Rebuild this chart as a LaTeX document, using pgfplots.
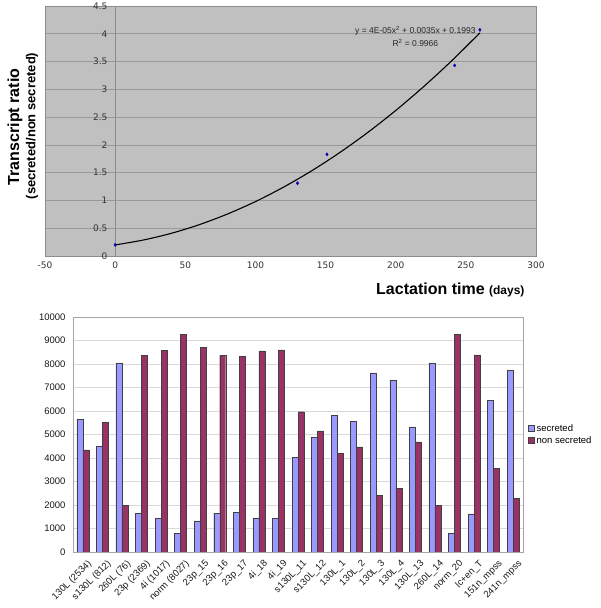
\documentclass[border=0pt]{standalone}
\usepackage{fontspec}
\setmainfont{Liberation Sans}
\newfontfamily\dv{DejaVu Sans}
\usepackage{pgfplots}
\pgfplotsset{compat=1.18}
\definecolor{bgray}{HTML}{C0C0C0}
\definecolor{sec}{HTML}{9999FF}
\definecolor{nsec}{HTML}{993366}
\pgfplotsset{sqlegend/.style={legend image code/.code={\draw[#1,/tikz/.cd] (0pt,-3pt) rectangle (6pt,3pt);}}}
\begin{document}
\begin{tikzpicture}
\useasboundingbox (0,0) rectangle (600pt,608pt);
% ---------------- top panel ----------------
\begin{axis}[at={(45pt,352pt)}, anchor=south west, width=491pt, height=250pt, scale only axis,
  xmin=-50, xmax=300, ymin=0, ymax=4.5,
  xtick={-50,0,50,100,150,200,250,300},
  ytick={0,0.5,1,1.5,2,2.5,3,3.5,4,4.5},
  axis background/.style={fill=bgray},
  axis line style={draw=black!45},
  ymajorgrids, major grid style={black!40, line width=0.6pt},
  major tick length=0pt,
  /pgf/number format/assume math mode=true,
  tick label style={font=\dv\fontsize{9}{10}\selectfont, text=black!80},
  yticklabel style={xshift=66pt},
  xticklabel style={yshift=-2pt},
  clip=false]
\draw[black!45, line width=0.6pt] (axis cs:0,0) -- (axis cs:0,4.5);
\addplot[black, line width=1.1pt, smooth] coordinates {
  (0,0.199) (20,0.287) (40,0.408) (60,0.564) (80,0.755) (100,0.979) (120,1.239)
  (140,1.532) (160,1.860) (180,2.222) (200,2.619) (220,3.051) (240,3.516) (260,4.016)};
\addplot[only marks, mark=diamond*, mark size=1.6pt, color=blue!70!black] coordinates {
  (0,0.20) (130,1.31) (151,1.83) (242,3.43) (260,4.07)};
\node[font=\fontsize{8.5}{10}\selectfont, text=black!85] at (axis cs:214,4.05) {y = 4E-05x\textsuperscript{2} + 0.0035x + 0.1993};
\node[font=\fontsize{8.5}{10}\selectfont, text=black!85] at (axis cs:214,3.83) {R\textsuperscript{2} = 0.9966};
\end{axis}
\node[rotate=90, font=\bfseries\fontsize{16}{18}\selectfont] at (15pt,481pt) {Transcript ratio};
\node[rotate=90, font=\bfseries\fontsize{13}{15}\selectfont] at (32pt,482pt) {(secreted/non secreted)};
\node[anchor=east] at (528pt,318pt) {\bfseries\fontsize{16}{18}\selectfont Lactation time \fontsize{12}{14}\selectfont(days)};
% ---------------- bottom panel ----------------
\begin{axis}[at={(73pt,56pt)}, anchor=south west, width=450pt, height=235pt, scale only axis,
  ybar=0pt, bar width=6pt,
  xmin=-0.5, xmax=22.5, ymin=0, ymax=10000,
  xtick={0,1,2,3,4,5,6,7,8,9,10,11,12,13,14,15,16,17,18,19,20,21,22},
  xticklabels={130L (2534), s130L (812), 260L (76), 23p (2369), 4i (1017), norm (8027),
    23p\_15, 23p\_16, 23p\_17, 4i\_18, 4i\_19, s130L\_11, s130L\_12, 130L\_1, 130L\_2,
    130L\_3, 130L\_4, 130L\_13, 260L\_14, norm\_20, lc+en\_T, 151n\_mpss, 241n\_mpss},
  ytick={0,1000,2000,3000,4000,5000,6000,7000,8000,9000,10000},
  scaled y ticks=false,
  /pgf/number format/1000 sep={},
  /pgf/number format/assume math mode=true,
  ymajorgrids, major grid style={black!15, line width=0.5pt},
  axis line style={draw=black!35},
  major tick length=0pt,
  tick label style={font=\fontsize{9.5}{11}\selectfont, text=black!90},
  yticklabel style={xshift=-4pt},
  xticklabel style={rotate=45, anchor=north east, inner sep=1pt, yshift=-7pt, xshift=-1pt},
  legend style={at={(1,0.5)}, anchor=west, xshift=2pt, draw=none, fill=none,
    font=\fontsize{9.5}{11}\selectfont, row sep=0pt},
  legend cell align=left]
\addplot[fill=sec, draw=black!75, line width=0.4pt, sqlegend] coordinates {
  (0,5650) (1,4500) (2,8050) (3,1650) (4,1440) (5,780) (6,1320) (7,1650) (8,1700)
  (9,1450) (10,1420) (11,4040) (12,4880) (13,5820) (14,5560) (15,7620) (16,7310)
  (17,5320) (18,8050) (19,780) (20,1620) (21,6460) (22,7740)};
\addplot[fill=nsec, draw=black!75, line width=0.4pt, sqlegend] coordinates {
  (0,4350) (1,5520) (2,1980) (3,8380) (4,8590) (5,9250) (6,8700) (7,8380) (8,8320)
  (9,8560) (10,8600) (11,5970) (12,5150) (13,4200) (14,4470) (15,2400) (16,2720)
  (17,4690) (18,1980) (19,9250) (20,8390) (21,3570) (22,2280)};
\legend{secreted, non secreted}
\end{axis}
\end{tikzpicture}
\end{document}
